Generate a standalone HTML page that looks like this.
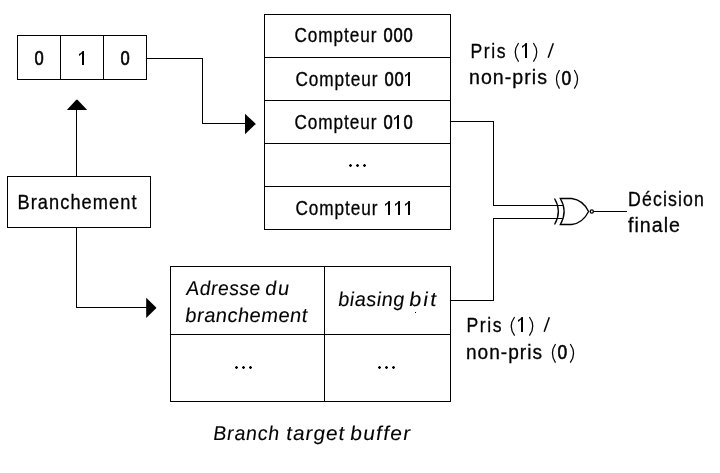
<!DOCTYPE html>
<html>
<head>
<meta charset="utf-8">
<style>
html,body{margin:0;padding:0;background:#fff;}
body{width:720px;height:473px;overflow:hidden;}
svg{display:block;will-change:transform;}
text{font-family:"Liberation Sans",sans-serif;fill:#000;stroke:#000;stroke-width:0.3px;}
.it{font-style:italic;stroke-width:0.1px;}
</style>
</head>
<body>
<svg width="720" height="473" viewBox="0 0 720 473">
<g fill="none" stroke="#000" stroke-width="1" shape-rendering="crispEdges">
  <!-- counter register -->
  <rect x="17.5" y="35.5" width="129" height="44"/>
  <line x1="60.5" y1="35" x2="60.5" y2="80"/>
  <line x1="103.5" y1="35" x2="103.5" y2="80"/>
  <!-- register -> table -->
  <polyline points="147,58.5 202.5,58.5 202.5,123.5 246,123.5"/>
  <!-- compteur table -->
  <rect x="264.5" y="14.5" width="186" height="215"/>
  <line x1="264" y1="57.5" x2="451" y2="57.5"/>
  <line x1="264" y1="100.5" x2="451" y2="100.5"/>
  <line x1="264" y1="143.5" x2="451" y2="143.5"/>
  <line x1="264" y1="186.5" x2="451" y2="186.5"/>
  <!-- 010 -> gate -->
  <polyline points="451,121.5 493.5,121.5 493.5,205.5 563,205.5"/>
  <!-- biasing -> gate -->
  <polyline points="451,300.5 493.5,300.5 493.5,218.5 563,218.5"/>
  <!-- output -->
  <line x1="594" y1="211.5" x2="627" y2="211.5"/>
  <!-- branchement box -->
  <rect x="7.5" y="176.5" width="143" height="51"/>
  <line x1="76.5" y1="176" x2="76.5" y2="109"/>
  <polyline points="76.5,228 76.5,307.5 147,307.5"/>
  <!-- BTB -->
  <rect x="170.5" y="266.5" width="280" height="135"/>
  <line x1="324.5" y1="266" x2="324.5" y2="402"/>
  <line x1="170" y1="334.5" x2="451" y2="334.5"/>
</g>
<!-- XNOR gate -->
<g fill="none" stroke="#000" stroke-width="1.3">
  <path d="M554.5,198.5 Q562.3,211.5 554.5,224.5"/>
  <path d="M560.3,198.5 L571.7,198.5 Q583,200 588.6,211.5 Q583,223 571.7,224.5 L560.3,224.5 Q568,211.5 560.3,198.5 Z"/>
  <circle cx="591.8" cy="211.5" r="1.6"/>
</g>
<!-- arrowheads -->
<g fill="#000">
  <polygon points="245,113.8 255.4,123.4 255.4,124.3 245,134.2"/>
  <polygon points="66.8,110 76.3,99.8 77.5,99.8 87.2,110"/>
  <polygon points="146.2,297.8 156.2,307.4 156.2,308.2 146.2,318"/>
</g>
<!-- ellipses -->
<path fill="#000" d="M349,165h3v1h-3zM350,164h1v1h-1zM350,166h1v1h-1z M356,165h3v1h-3zM357,164h1v1h-1zM357,166h1v1h-1z M363,165h3v1h-3zM364,164h1v1h-1zM364,166h1v1h-1z M235,367h3v1h-3zM236,366h1v1h-1zM236,368h1v1h-1z M242,367h3v1h-3zM243,366h1v1h-1zM243,368h1v1h-1z M249,367h3v1h-3zM250,366h1v1h-1zM250,368h1v1h-1z M378,367h3v1h-3zM379,366h1v1h-1zM379,368h1v1h-1z M385,367h3v1h-3zM386,366h1v1h-1zM386,368h1v1h-1z M392,367h3v1h-3zM393,366h1v1h-1zM393,368h1v1h-1z"/>
<path fill="#000" fill-opacity="0.3" d="M349,164h1v1h-1zM351,164h1v1h-1zM349,166h1v1h-1zM351,166h1v1h-1z M356,164h1v1h-1zM358,164h1v1h-1zM356,166h1v1h-1zM358,166h1v1h-1z M363,164h1v1h-1zM365,164h1v1h-1zM363,166h1v1h-1zM365,166h1v1h-1z M235,366h1v1h-1zM237,366h1v1h-1zM235,368h1v1h-1zM237,368h1v1h-1z M242,366h1v1h-1zM244,366h1v1h-1zM242,368h1v1h-1zM244,368h1v1h-1z M249,366h1v1h-1zM251,366h1v1h-1zM249,368h1v1h-1zM251,368h1v1h-1z M378,366h1v1h-1zM380,366h1v1h-1zM378,368h1v1h-1zM380,368h1v1h-1z M385,366h1v1h-1zM387,366h1v1h-1zM385,368h1v1h-1zM387,368h1v1h-1z M392,366h1v1h-1zM394,366h1v1h-1zM392,368h1v1h-1zM394,368h1v1h-1z"/>
<rect x="415" y="312" width="1" height="1" fill="#000"/>
<g>
  <g fill="none" stroke="#000" stroke-width="1.25">
    <path d="M518.6,43 Q511.8,52.3 518.6,61.6"/>
    <path d="M533.4,43 Q540.2,52.3 533.4,61.6"/>
    <path d="M559.5,70 Q553.3,79.4 559.5,88.7"/>
    <path d="M574.3,70 Q580.9,79.4 574.3,88.7"/>
    <line x1="548.2" y1="57.8" x2="553.3" y2="43.2" stroke-width="1.5"/>
  </g>
  <path fill="#000" d="M527,43 L527,58 L525,58 L525,45.6 Q523.8,47 522,47.9 L522,46 Q524.6,44.8 525.6,43 Z"/>
  <text transform="translate(561.5 84.7) scale(0.85 1)" font-size="20.5" style="stroke-width:0.6px">0</text>
</g>
<g transform="translate(-4 274)">
  <g fill="none" stroke="#000" stroke-width="1.25">
    <path d="M518.6,43 Q511.8,52.3 518.6,61.6"/>
    <path d="M533.4,43 Q540.2,52.3 533.4,61.6"/>
    <path d="M559.5,70 Q553.3,79.4 559.5,88.7"/>
    <path d="M574.3,70 Q580.9,79.4 574.3,88.7"/>
    <line x1="548.2" y1="57.8" x2="553.3" y2="43.2" stroke-width="1.5"/>
  </g>
  <path fill="#000" d="M527,43 L527,58 L525,58 L525,45.6 Q523.8,47 522,47.9 L522,46 Q524.6,44.8 525.6,43 Z"/>
  <text transform="translate(561.5 84.7) scale(0.85 1)" font-size="20.5" style="stroke-width:0.6px">0</text>
</g>
<text transform="translate(294.50 42.00) scale(0.882 1)" font-size="19.5" textLength="92.97" lengthAdjust="spacing">Compteur</text>
<text transform="translate(295.50 86.00) scale(0.882 1)" font-size="19.5" textLength="92.97" lengthAdjust="spacing">Compteur</text>
<text transform="translate(294.50 129.00) scale(0.882 1)" font-size="19.5" textLength="92.97" lengthAdjust="spacing">Compteur</text>
<text transform="translate(295.50 215.00) scale(0.882 1)" font-size="19.5" textLength="92.97" lengthAdjust="spacing">Compteur</text>
<text transform="translate(628.00 205.80) scale(0.887 1)" font-size="20" textLength="85.68" lengthAdjust="spacing">Décision</text>
<text transform="translate(628.00 232.40) scale(0.983 1)" font-size="20" textLength="52.90" lengthAdjust="spacing">finale</text>
<text transform="translate(17.50 209.00) scale(0.912 1)" font-size="20" textLength="130.48" lengthAdjust="spacing">Branchement</text>
<text class="it" transform="translate(185.60 322.20) scale(1.007 1) skewX(2.5)" font-size="20" textLength="121.15" lengthAdjust="spacing">branchement</text>
<text class="it" transform="translate(186.50 295.00) scale(0.963 1) skewX(2.5)" font-size="20" textLength="76.84" lengthAdjust="spacing">Adresse</text>
<text class="it" transform="translate(265.50 295.00) scale(1.003 1) skewX(2.5)" font-size="20" textLength="23.93" lengthAdjust="spacing">du</text>
<text class="it" transform="translate(338.50 305.50) scale(0.993 1) skewX(2.5)" font-size="20" textLength="66.47" lengthAdjust="spacing">biasing</text>
<text class="it" transform="translate(409.50 305.50) scale(1.08 1) skewX(2.5)" font-size="20" textLength="25.00" lengthAdjust="spacing">bit</text>
<text class="it" transform="translate(213.50 440.00) scale(0.978 1) skewX(2.5)" font-size="20" textLength="67.48" lengthAdjust="spacing">Branch</text>
<text class="it" transform="translate(286.50 440.00) scale(1.04 1) skewX(2.5)" font-size="20" textLength="55.77" lengthAdjust="spacing">target</text>
<text class="it" transform="translate(350.50 440.00) scale(1.05 1) skewX(2.5)" font-size="20" textLength="57.14" lengthAdjust="spacing">buffer</text>
<text transform="translate(470.50 58.00) scale(0.88 1)" font-size="20" textLength="39.77" lengthAdjust="spacing">Pris</text>
<text transform="translate(469.00 84.20) scale(0.98 1)" font-size="20" textLength="79.59" lengthAdjust="spacing">non-pris</text>
<text transform="translate(466.50 332.00) scale(0.88 1)" font-size="20" textLength="39.77" lengthAdjust="spacing">Pris</text>
<text transform="translate(466.00 358.70) scale(0.955 1)" font-size="20" textLength="79.58" lengthAdjust="spacing">non-pris</text>
<text transform="translate(383.5 42) scale(0.85 1)" font-size="19.5" style="stroke-width:0.6px">0</text>
<text transform="translate(393.5 42) scale(0.85 1)" font-size="19.5" style="stroke-width:0.6px">0</text>
<text transform="translate(403.5 42) scale(0.85 1)" font-size="19.5" style="stroke-width:0.6px">0</text>
<text transform="translate(384.5 86) scale(0.85 1)" font-size="19.5" style="stroke-width:0.6px">0</text>
<text transform="translate(394.5 86) scale(0.85 1)" font-size="19.5" style="stroke-width:0.6px">0</text>
<path fill="#000" d="M410,72 L410,86 L408,86 L408,74.6 Q406.8,76 405,76.9 L405,75 Q407.6,73.8 408.6,72 Z"/>
<text transform="translate(383.5 129) scale(0.85 1)" font-size="19.5" style="stroke-width:0.6px">0</text>
<path fill="#000" d="M399,115 L399,129 L397,129 L397,117.6 Q395.8,119 394,119.9 L394,118 Q396.6,116.8 397.6,115 Z"/>
<text transform="translate(403.5 129) scale(0.85 1)" font-size="19.5" style="stroke-width:0.6px">0</text>
<path fill="#000" d="M390,201 L390,215 L388,215 L388,203.6 Q386.8,205 385,205.9 L385,204 Q387.6,202.8 388.6,201 Z"/>
<path fill="#000" d="M400,201 L400,215 L398,215 L398,203.6 Q396.8,205 395,205.9 L395,204 Q397.6,202.8 398.6,201 Z"/>
<path fill="#000" d="M410,201 L410,215 L408,215 L408,203.6 Q406.8,205 405,205.9 L405,204 Q407.6,202.8 408.6,201 Z"/>
<text transform="translate(34.5 65) scale(0.85 1)" font-size="19.5" style="stroke-width:0.6px">0</text>
<path fill="#000" d="M84,51 L84,65 L82,65 L82,53.6 Q80.8,55 79,55.9 L79,54 Q81.6,52.8 82.6,51 Z"/>
<text transform="translate(120.5 65) scale(0.85 1)" font-size="19.5" style="stroke-width:0.6px">0</text>
</svg>
</body>
</html>
